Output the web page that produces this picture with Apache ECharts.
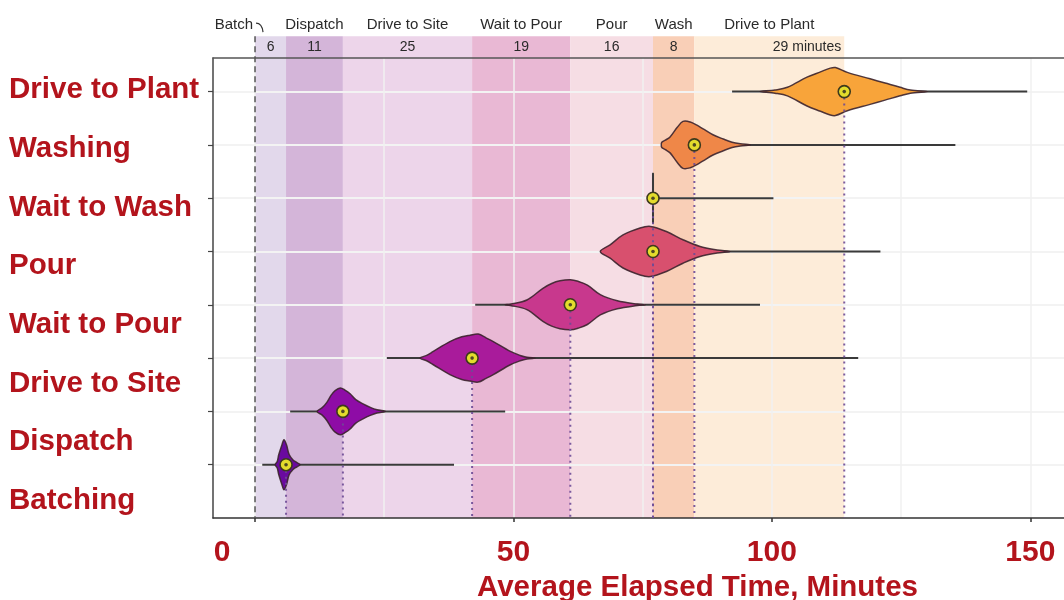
<!DOCTYPE html>
<html><head><meta charset="utf-8">
<script src="https://cdn.jsdelivr.net/npm/echarts@6/dist/echarts.min.js"></script>
<style>html,body{margin:0;padding:0;background:#fff}#main{width:1064px;height:600px}</style>
</head><body><div id="main"></div>
<script>
// ---------- data ----------
const categories = ['Batching','Dispatch','Drive to Site','Wait to Pour','Pour','Wait to Wash','Washing','Drive to Plant'];
const stageNames = ['Batch','Dispatch','Drive to Site','Wait to Pour','Pour','Wash','Drive to Plant'];
const stageMinutes = [6,11,25,19,16,8,29];
const meanTimes = [6,17,42,61,77,77,85,114];
const rangeMin = [1.4,6.8,25.5,42.6,66.8,77,78.8,92.3];
const rangeMax = [38.5,48.4,116.7,97.7,121.0,100.3,135.5,149.4];
// density profiles: [minutes, half-width in row units]
const densityBatching = [[3.9,0],[4.3,0.06],[4.6,0.19],[5.2,0.37],[5.6,0.47],[6.1,0.37],[6.6,0.19],[7.35,0.09],[8.1,0.04],[8.7,0]];
const densityDispatch = [[12.0,0],[13.0,0.07],[13.9,0.17],[14.7,0.30],[15.5,0.39],[16.5,0.44],[17.4,0.40],[18.4,0.33],[19.5,0.22],[20.9,0.14],[22.3,0.075],[23.6,0.03],[25.2,0]];
const densityDriveToSite = [[31.9,0],[33.2,0.05],[34.5,0.125],[37.7,0.31],[40.0,0.40],[41.6,0.43],[43.2,0.45],[44.7,0.38],[46.1,0.31],[49.4,0.125],[51.3,0.05],[52.6,0.015],[54.2,0]];
const densityWaitToPour = [[48.4,0],[49.4,0.012],[52.6,0.09],[55.7,0.31],[57.4,0.40],[59.0,0.45],[61.0,0.47],[62.5,0.44],[64.3,0.37],[66.8,0.19],[70.1,0.075],[74.0,0.013],[75.5,0]];
const densityPour = [[66.8,0],[68.7,0.125],[71.2,0.31],[74.5,0.44],[76.5,0.47],[79.7,0.37],[82.8,0.22],[86.1,0.094],[89.4,0.03],[91.9,0]];
const densityWaitToWash = [[76.9,0],[76.9,0.47],[77.1,0.47],[77.1,0]];
const densityWashing = [[78.6,0],[78.7,0.05],[79.4,0.09],[80.3,0.15],[81.7,0.33],[82.8,0.44],[84.2,0.43],[85.5,0.37],[86.7,0.30],[88.6,0.19],[90.6,0.11],[92.3,0.05],[93.9,0.02],[95.8,0]];
const densityDriveToPlant = [[97.7,0],[100.6,0.03],[103.0,0.08],[106.8,0.27],[109.4,0.37],[111.3,0.44],[112.3,0.45],[114.6,0.36],[119.0,0.24],[121.9,0.16],[124.8,0.08],[126.8,0.03],[130.1,0]];
const densities = [densityBatching,densityDispatch,densityDriveToSite,densityWaitToPour,densityPour,densityWaitToWash,densityWashing,densityDriveToPlant];
const xTickValues = [0,50,100,150];
const xGridValues = [0,25,50,75,100,125,150];
const rowValues = [0,1,2,3,4,5,6,7];

// ---------- styles ----------
const RED = '#b3141c';
const FONT = 'Liberation Sans, Arial, sans-serif';
const violinColors = ['#6a0a9f','#8e0ca6','#a91b9b','#c8388d','#d8506e','#e56a5a','#ef8748','#f8a43a'];
const bandColors = ['#e2d8eb','#d4b5d9','#edd5ea','#e9b8d4','#f6dde4','#f9cfb7','#fdecd9'];
const BAND_TOP = 8.04;

const stageStarts = [];
stageMinutes.reduce((acc, d) => { stageStarts.push(acc); return acc + d; }, 0);
const bandData = stageMinutes.map((d, i) => [stageStarts[i], stageStarts[i] + d, d, i]);
const violinData = categories.map((c, i) => [i, meanTimes[i], rangeMin[i], rangeMax[i]]);

const chart = echarts.init(document.getElementById('main'), null, {renderer: 'canvas'});

function renderBand(params, api) {
  const s = api.value(0), e = api.value(1), d = api.value(2), i = api.value(3);
  const p0 = api.coord([s, BAND_TOP]);
  const p1 = api.coord([e, -1]);
  const cx = (p0[0] + p1[0]) / 2;
  const last = i === stageMinutes.length - 1;
  const children = [
    {type: 'rect', shape: {x: p0[0], y: p0[1], width: p1[0] - p0[0], height: p1[1] - p0[1]}, style: {fill: bandColors[i]}},
    {type: 'text', x: last ? p1[0] - 3 : cx, y: p0[1] + 11,
      style: {text: last ? d + ' minutes' : String(d), fill: '#2a2a2a', font: '14px ' + FONT, align: last ? 'right' : 'center', verticalAlign: 'middle'}}
  ];
  if (i === 0) {
    children.push({type: 'text', x: p0[0] - 2, y: p0[1] - 11,
      style: {text: stageNames[i], fill: '#2a2a2a', font: '15px ' + FONT, align: 'right', verticalAlign: 'middle'}});
    children.push({type: 'bezierCurve', shape: {x1: p0[0] + 1, y1: p0[1] - 13, cpx1: p0[0] + 7, cpy1: p0[1] - 13, x2: p0[0] + 8, y2: p0[1] - 4},
      style: {stroke: '#333', lineWidth: 1.2, fill: null}});
  } else {
    children.push({type: 'text', x: cx, y: p0[1] - 11,
      style: {text: stageNames[i], fill: '#2a2a2a', font: '15px ' + FONT, align: 'center', verticalAlign: 'middle'}});
  }
  return {type: 'group', children};
}

function renderViolin(params, api) {
  const i = api.value(0), mean = api.value(1), lo = api.value(2), hi = api.value(3);
  const dens = densities[i];
  const a = api.coord([lo, i]), b = api.coord([hi, i]);
  const top = dens.map(([x, w]) => api.coord([x, i + w]));
  const bottom = dens.slice(1, -1).map(([x, w]) => api.coord([x, i - w])).reverse();
  const c = api.coord([mean, i]);
  const base = api.coord([mean, -1]);
  const isSpike = i === 5;
  return {type: 'group', children: [
    {type: 'line', z2: 1, shape: {x1: a[0], y1: a[1], x2: b[0], y2: b[1]}, style: {stroke: '#3a3a3a', lineWidth: 2}},
    {type: 'polygon', z2: 2, shape: {points: top.concat(bottom), smooth: isSpike ? 0 : 0.35},
      style: {fill: isSpike ? '#3a3a3a' : violinColors[i], stroke: isSpike ? '#3a3a3a' : 'rgba(60,35,45,0.9)', lineWidth: isSpike ? 1 : 1.5}},
    {type: 'line', z2: 5, shape: {x1: c[0], y1: c[1] + 6, x2: base[0], y2: base[1]},
      style: {stroke: 'rgba(110,75,150,0.9)', lineWidth: 2, lineDash: [2, 4]}},
    {type: 'circle', z2: 10, shape: {cx: c[0], cy: c[1], r: 6}, style: {fill: '#e3dc2c', stroke: '#3d3a1c', lineWidth: 1.6}},
    {type: 'circle', z2: 11, shape: {cx: c[0], cy: c[1], r: 1.8}, style: {fill: '#4f4a22'}}
  ]};
}

function renderZero(params, api) {
  const p0 = api.coord([api.value(0), BAND_TOP]);
  const p1 = api.coord([api.value(0), -1]);
  return {type: 'line', shape: {x1: p0[0], y1: p0[1], x2: p1[0], y2: p1[1]},
    style: {stroke: '#555', lineWidth: 1.5, lineDash: [6, 4]}};
}

const labelFont = {color: RED, fontSize: 30, fontWeight: 'bold', fontFamily: FONT};

chart.setOption({
  animation: false,
  backgroundColor: '#fff',
  grid: [
    {left: 213, top: 58, bottom: 82, right: -18, outerBoundsMode: 'none', containLabel: false},
    {left: 213, top: 60.65, height: 469.6, width: 10, outerBoundsMode: 'none', containLabel: false}
  ],
  xAxis: [
    {type: 'value', gridIndex: 0, min: -8.13, max: 160, position: 'bottom',
      axisLine: {show: true, onZero: false, lineStyle: {color: '#333', width: 1.5}},
      axisTick: {show: true, customValues: xTickValues, length: 4, lineStyle: {color: '#333', width: 1.5}},
      axisLabel: {show: true, customValues: xTickValues, margin: 20,
        formatter: v => v === 0 ? '{z|0}' : '{n|' + v + '}',
        rich: {z: Object.assign({padding: [0, 66, 0, 0]}, labelFont), n: Object.assign({}, labelFont)}},
      splitLine: {show: false},
      name: 'Average Elapsed Time, Minutes', nameLocation: 'middle', nameGap: 54,
      nameTextStyle: {color: RED, fontSize: 29.5, fontWeight: 'bold', fontFamily: FONT, padding: [0, 0, 0, 100]}},
    {type: 'value', gridIndex: 0, min: -8.13, max: 160, position: 'top',
      axisLine: {show: true, onZero: false, lineStyle: {color: '#555', width: 1.5}},
      axisTick: {show: false, customValues: xGridValues},
      axisLabel: {show: false},
      splitLine: {show: true, lineStyle: {color: '#f1f1f1', width: 1.5}}},
    {type: 'value', gridIndex: 1, show: false}
  ],
  yAxis: [
    {type: 'value', gridIndex: 0, min: -1, max: 7.63, position: 'left',
      axisLine: {show: true, onZero: false, lineStyle: {color: '#444', width: 1.5}},
      axisTick: {show: true, customValues: rowValues, length: 5, lineStyle: {color: '#444', width: 1.2}},
      axisLabel: {show: false},
      splitLine: {show: true, lineStyle: {color: '#f3f3f3', width: 2}}},
    {type: 'category', gridIndex: 1, data: categories,
      axisLine: {show: false}, axisTick: {show: false}, splitLine: {show: false},
      axisLabel: {show: true, align: 'left', margin: 204, interval: 0,
        color: RED, fontSize: 29.5, fontWeight: 'bold', fontFamily: FONT}}
  ],
  series: [
    {type: 'custom', name: 'stages', xAxisIndex: 0, yAxisIndex: 0, z: -1, clip: false,
      renderItem: renderBand, data: bandData, silent: true},
    {type: 'custom', name: 'zero', xAxisIndex: 0, yAxisIndex: 0, z: 3, clip: false,
      renderItem: renderZero, data: [[0]], silent: true},
    {type: 'custom', name: 'violins', xAxisIndex: 0, yAxisIndex: 0, z: 4, clip: false,
      renderItem: renderViolin, data: violinData, silent: true}
  ]
});
</script></body></html>
